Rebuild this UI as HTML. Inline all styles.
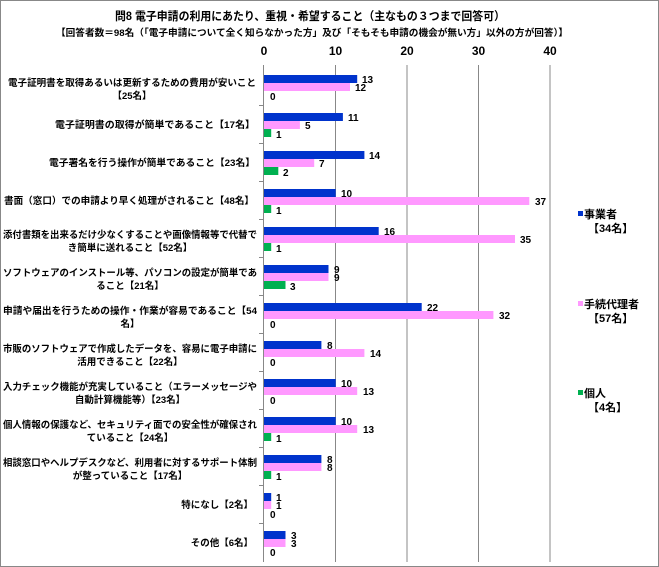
<!DOCTYPE html>
<html><head><meta charset="utf-8"><style>
html,body{margin:0;padding:0;background:#fff}
svg{display:block}
text{font-family:"Liberation Sans","Noto Sans CJK JP",sans-serif;font-weight:bold;fill:#000}
.l{font-size:9.5px}
.v{font-size:10px}
</style></head><body>
<svg width="659" height="567" viewBox="0 0 659 567" xmlns="http://www.w3.org/2000/svg">
<rect x="0.5" y="0.5" width="658" height="566" fill="#fff" stroke="#888"/>
<text x="310" y="20" font-size="11.5" text-anchor="middle" textLength="390" lengthAdjust="spacingAndGlyphs">問8 電子申請の利用にあたり、重視・希望すること（主なもの３つまで回答可）</text>
<text x="312" y="36" font-size="9.5" text-anchor="middle" textLength="512" lengthAdjust="spacingAndGlyphs">【回答者数＝98名（「電子申請について全く知らなかった方」及び「そもそも申請の機会が無い方」以外の方が回答）】</text>
<g font-size="12" text-anchor="middle">
<text x="264" y="55">0</text><text x="335.5" y="55">10</text><text x="407" y="55">20</text><text x="478.5" y="55">30</text><text x="550" y="55">40</text>
</g>
<g stroke="#888" stroke-width="1">
<line x1="335.5" y1="65" x2="335.5" y2="562"/><line x1="407" y1="65" x2="407" y2="562"/><line x1="478.5" y1="65" x2="478.5" y2="562"/><line x1="550" y1="65" x2="550" y2="562"/>
<line x1="263.5" y1="65" x2="263.5" y2="562"/>
<line x1="259" y1="105.5" x2="264" y2="105.5"/><line x1="259" y1="143.5" x2="264" y2="143.5"/><line x1="259" y1="181.5" x2="264" y2="181.5"/><line x1="259" y1="219.5" x2="264" y2="219.5"/><line x1="259" y1="257.5" x2="264" y2="257.5"/><line x1="259" y1="295.5" x2="264" y2="295.5"/><line x1="259" y1="333.5" x2="264" y2="333.5"/><line x1="259" y1="371.5" x2="264" y2="371.5"/><line x1="259" y1="409.5" x2="264" y2="409.5"/><line x1="259" y1="447.5" x2="264" y2="447.5"/><line x1="259" y1="485.5" x2="264" y2="485.5"/><line x1="259" y1="523.5" x2="264" y2="523.5"/>
</g>
<g fill="#0033cc">
<rect x="264" y="75" width="93.2" height="8"/>
<rect x="264" y="113" width="78.9" height="8"/>
<rect x="264" y="151" width="100.4" height="8"/>
<rect x="264" y="189" width="71.7" height="8"/>
<rect x="264" y="227" width="114.7" height="8"/>
<rect x="264" y="265" width="64.5" height="8"/>
<rect x="264" y="303" width="157.7" height="8"/>
<rect x="264" y="341" width="57.4" height="8"/>
<rect x="264" y="379" width="71.7" height="8"/>
<rect x="264" y="417" width="71.7" height="8"/>
<rect x="264" y="455" width="57.4" height="8"/>
<rect x="264" y="493" width="7.2" height="8"/>
<rect x="264" y="531" width="21.5" height="8"/>
</g>
<g fill="#ff99ff">
<rect x="264" y="83" width="86" height="8"/>
<rect x="264" y="121" width="35.9" height="8"/>
<rect x="264" y="159" width="50.2" height="8"/>
<rect x="264" y="197" width="265.3" height="8"/>
<rect x="264" y="235" width="251" height="8"/>
<rect x="264" y="273" width="64.5" height="8"/>
<rect x="264" y="311" width="229.4" height="8"/>
<rect x="264" y="349" width="100.4" height="8"/>
<rect x="264" y="387" width="93.2" height="8"/>
<rect x="264" y="425" width="93.2" height="8"/>
<rect x="264" y="463" width="57.4" height="8"/>
<rect x="264" y="501" width="7.2" height="8"/>
<rect x="264" y="539" width="21.5" height="8"/>
</g>
<g fill="#00b050">
<rect x="264" y="129" width="7.2" height="8"/>
<rect x="264" y="167" width="14.3" height="8"/>
<rect x="264" y="205" width="7.2" height="8"/>
<rect x="264" y="243" width="7.2" height="8"/>
<rect x="264" y="281" width="21.5" height="8"/>
<rect x="264" y="433" width="7.2" height="8"/>
<rect x="264" y="471" width="7.2" height="8"/>
</g>
<g class="v">
<text x="362" y="83">13</text><text x="355" y="91">12</text><text x="270" y="100">0</text>
<text x="348" y="121">11</text><text x="305" y="129">5</text><text x="276" y="138">1</text>
<text x="369" y="159">14</text><text x="319" y="167">7</text><text x="283" y="176">2</text>
<text x="341" y="197">10</text><text x="535" y="205">37</text><text x="276" y="214">1</text>
<text x="384" y="235">16</text><text x="520" y="243">35</text><text x="276" y="252">1</text>
<text x="334" y="273">9</text><text x="334" y="281">9</text><text x="290" y="290">3</text>
<text x="427" y="311">22</text><text x="499" y="319">32</text><text x="270" y="328">0</text>
<text x="327" y="349">8</text><text x="370" y="357">14</text><text x="270" y="366">0</text>
<text x="341" y="387">10</text><text x="363" y="395">13</text><text x="270" y="404">0</text>
<text x="341" y="425">10</text><text x="363" y="433">13</text><text x="276" y="442">1</text>
<text x="327" y="463">8</text><text x="327" y="471">8</text><text x="276" y="480">1</text>
<text x="276" y="501">1</text><text x="276" y="509">1</text><text x="270" y="518">0</text>
<text x="291" y="539">3</text><text x="291" y="547">3</text><text x="270" y="556">0</text>
</g>
<g class="l">
<text x="8" y="86" textLength="248" lengthAdjust="spacingAndGlyphs">電子証明書を取得あるいは更新するための費用が安いこと</text>
<text x="132" y="99" text-anchor="middle">【25名】</text>
<text x="255" y="128" text-anchor="end" textLength="200" lengthAdjust="spacingAndGlyphs">電子証明書の取得が簡単であること【17名】</text>
<text x="255" y="166" text-anchor="end" textLength="206" lengthAdjust="spacingAndGlyphs">電子署名を行う操作が簡単であること【23名】</text>
<text x="254" y="204" text-anchor="end" textLength="250" lengthAdjust="spacingAndGlyphs">書面（窓口）での申請より早く処理がされること【48名】</text>
<text x="3" y="238" textLength="254" lengthAdjust="spacingAndGlyphs">添付書類を出来るだけ少なくすることや画像情報等で代替で</text>
<text x="130" y="251" text-anchor="middle">き簡単に送れること【52名】</text>
<text x="3" y="276" textLength="254" lengthAdjust="spacingAndGlyphs">ソフトウェアのインストール等、パソコンの設定が簡単であ</text>
<text x="130" y="289" text-anchor="middle">ること【21名】</text>
<text x="3" y="314" textLength="254" lengthAdjust="spacingAndGlyphs">申請や届出を行うための操作・作業が容易であること【54</text>
<text x="130" y="327" text-anchor="middle">名】</text>
<text x="3" y="352" textLength="254" lengthAdjust="spacingAndGlyphs">市販のソフトウェアで作成したデータを、容易に電子申請に</text>
<text x="130" y="365" text-anchor="middle">活用できること【22名】</text>
<text x="3" y="390" textLength="254" lengthAdjust="spacingAndGlyphs">入力チェック機能が充実していること（エラーメッセージや</text>
<text x="130" y="403" text-anchor="middle">自動計算機能等）【23名】</text>
<text x="3" y="428" textLength="254" lengthAdjust="spacingAndGlyphs">個人情報の保護など、セキュリティ面での安全性が確保され</text>
<text x="130" y="441" text-anchor="middle">ていること【24名】</text>
<text x="3" y="466" textLength="254" lengthAdjust="spacingAndGlyphs">相談窓口やヘルプデスクなど、利用者に対するサポート体制</text>
<text x="130" y="479" text-anchor="middle">が整っていること【17名】</text>
<text x="253" y="508" text-anchor="end">特になし【2名】</text>
<text x="253" y="546" text-anchor="end">その他【6名】</text>
</g>
<g font-size="11">
<rect x="578" y="211" width="5" height="5" fill="#0033cc"/>
<text x="584" y="218">事業者</text><text x="588" y="232">【34名】</text>
<rect x="578" y="301" width="5" height="5" fill="#ff99ff"/>
<text x="584" y="308">手続代理者</text><text x="588" y="322">【57名】</text>
<rect x="578" y="390" width="5" height="5" fill="#00b050"/>
<text x="584" y="397">個人</text><text x="588" y="411">【4名】</text>
</g>
</svg>
</body></html>
